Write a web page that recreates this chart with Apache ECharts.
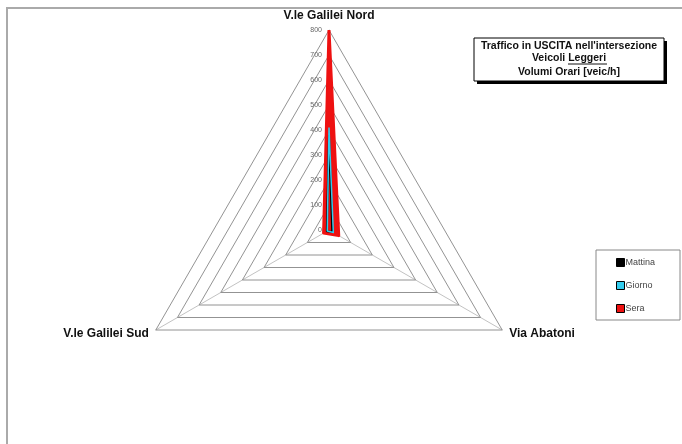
<!DOCTYPE html>
<html>
<head>
<meta charset="utf-8">
<script src="https://cdn.jsdelivr.net/npm/echarts@6/dist/echarts.min.js"></script>
<style>
html,body{margin:0;padding:0;background:#fff;}
#chart{width:682px;height:444px;}
</style>
</head>
<body>
<div id="chart"></div>
<script>
var indicators = ['V.le Galilei Nord', 'V.le Galilei Sud', 'Via Abatoni'];
var axisMax = 800;
var tickStep = 100;
var seriesNames = ['Mattina', 'Giorno', 'Sera'];
var mattina = [380, 10, 15];
var giorno = [410, 8, 20];
var sera = [800, 25, 45];
var titleLines = ["Traffico in USCITA nell'intersezione", 'Veicoli ', 'Leggeri', 'Volumi Orari [veic/h]'];

var chart = echarts.init(document.getElementById('chart'));
var font = 'Liberation Sans, Arial, sans-serif';

var staticGraphics = [
  {
    id: 'frame', type: 'rect',
    shape: { x: 7, y: 8, width: 700, height: 460 },
    style: { fill: 'none', stroke: '#aaa', lineWidth: 2 },
    silent: true
  },
  {
    id: 'shadow', type: 'rect',
    shape: { x: 477, y: 41, width: 190, height: 43 },
    style: { fill: '#000' },
    silent: true
  },
  {
    id: 'tbox', type: 'rect',
    shape: { x: 474, y: 38, width: 190, height: 43 },
    style: { fill: '#fff', stroke: '#000', lineWidth: 1 },
    silent: true
  },
  {
    id: 't1', type: 'text', x: 569, y: 46,
    style: { text: titleLines[0], align: 'center', verticalAlign: 'middle', font: 'bold 10.5px ' + font, fill: '#111' }
  },
  {
    id: 't2', type: 'text', x: 569, y: 58,
    style: {
      text: '{a|' + titleLines[1] + '}{b|' + titleLines[2] + '}',
      align: 'center', verticalAlign: 'middle', font: 'bold 10.5px ' + font, fill: '#111',
      rich: { a: { font: 'bold 10.5px ' + font, fill: '#111' }, b: { font: 'bold 10.5px ' + font, fill: '#111' } }
    }
  },
  {
    id: 'uline', type: 'line',
    shape: { x1: 568, y1: 64, x2: 607, y2: 64 },
    style: { stroke: '#111', lineWidth: 1 }
  },
  {
    id: 't3', type: 'text', x: 569, y: 72,
    style: { text: titleLines[3], align: 'center', verticalAlign: 'middle', font: 'bold 10.5px ' + font, fill: '#111' }
  }
];

chart.setOption({
  animation: false,
  backgroundColor: '#fff',
  legend: {
    data: seriesNames,
    orient: 'vertical',
    left: 596,
    top: 250,
    icon: 'rect',
    itemWidth: 8,
    itemHeight: 8,
    itemGap: 14,
    padding: [8, 25, 7, 20],
    borderColor: '#888',
    borderWidth: 1,
    textStyle: { fontFamily: font, fontSize: 9, color: '#444', padding: [0, 0, 0, -4] },
    itemStyle: { borderColor: '#000', borderWidth: 1 }
  },
  radar: {
    center: [329, 230],
    radius: 200,
    shape: 'polygon',
    splitNumber: axisMax / tickStep,
    startAngle: 90,
    indicator: indicators.map(function (n) { return { name: n, max: axisMax, min: 0 }; }),
    axisName: {
      color: '#111',
      fontFamily: font,
      fontSize: 12,
      fontWeight: 'bold'
    },
    nameGap: 8,
    splitArea: { show: false },
    splitLine: { lineStyle: { color: '#777', width: 0.8 } },
    axisLine: { lineStyle: { color: '#999', width: 0.6 } },
    axisTick: { show: false },
    axisLabel: { show: false }
  },
  series: [
    {
      type: 'radar',
      name: 'Sera',
      symbol: 'none',
      z: 2,
      data: [{ value: sera, name: 'Sera' }],
      itemStyle: { color: '#ee1111' },
      lineStyle: { color: '#ee1111', width: 3 },
      areaStyle: { color: '#ee1111', opacity: 1 }
    },
    {
      type: 'radar',
      name: 'Mattina',
      symbol: 'none',
      z: 3,
      data: [{ value: mattina, name: 'Mattina' }],
      itemStyle: { color: '#000000' },
      lineStyle: { color: '#000000', width: 2 }
    },
    {
      type: 'radar',
      name: 'Giorno',
      symbol: 'none',
      z: 4,
      data: [{ value: giorno, name: 'Giorno' }],
      itemStyle: { color: '#33ccee' },
      lineStyle: { color: '#33ccee', width: 1.5 }
    }
  ],
  graphic: staticGraphics
});

// tick labels along the first axis, positioned through the radar coordinate system
var radarCoord = chart.getModel().getComponent('radar').coordinateSystem;
var tickGraphics = [];
for (var v = 0, i = 0; v <= axisMax; v += tickStep, i++) {
  var p = radarCoord.dataToPoint(v, 0);
  tickGraphics.push({
    id: 'tick' + i, type: 'text', x: p[0] - 7, y: p[1],
    style: { text: String(v), align: 'right', verticalAlign: 'middle', font: '7px ' + font, fill: '#666' },
    silent: true
  });
}
chart.setOption({ graphic: staticGraphics.concat(tickGraphics) });
</script>
</body>
</html>
